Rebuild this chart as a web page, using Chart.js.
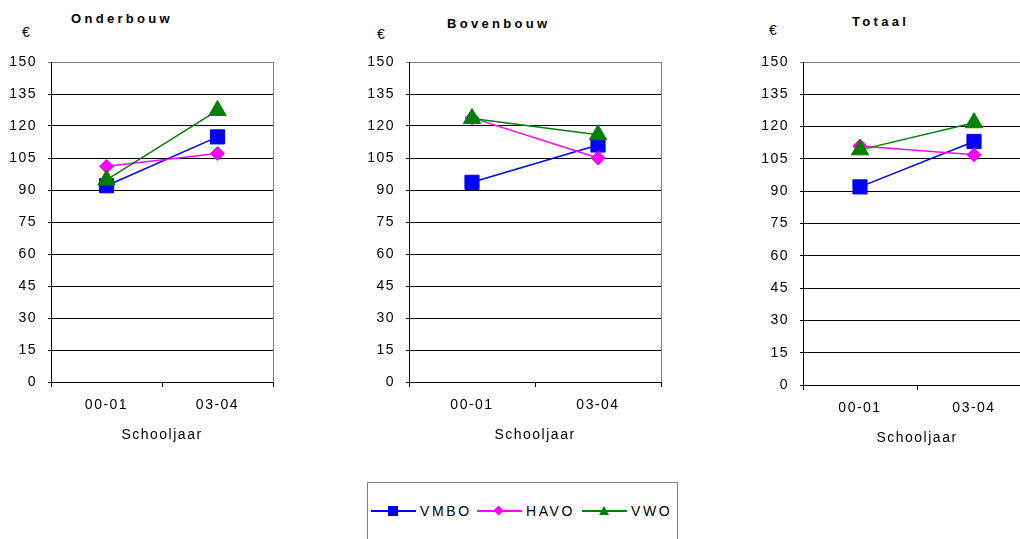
<!DOCTYPE html>
<html>
<head>
<meta charset="utf-8">
<script src="https://cdn.jsdelivr.net/npm/chart.js@4.4.1/dist/chart.umd.min.js"></script>
<style>
  body { margin: 0; width: 1020px; height: 539px; overflow: hidden; background: #fff; position: relative;
         font-family: "Liberation Sans", Arial, sans-serif; color: #000; }
  canvas { position: absolute; top: 0; }
  .title { position: absolute; font-weight: bold; font-size: 13px; letter-spacing: 3.3px; white-space: nowrap; }
  .euro { position: absolute; font-size: 14px; }
  #legend { position: absolute; left: 367px; top: 482px; width: 309px; height: 80px; border: 1px solid #808080; }
  .item { position: absolute; top: 20px; height: 16px; font-size: 14px; letter-spacing: 2.6px; line-height: 16px; }
  .item .ln { position: absolute; top: 7px; width: 45px; height: 2px; }
  .item .tx { position: absolute; left: 49px; top: 0; white-space: nowrap; }
</style>
</head>
<body>
<div class="title" style="left:71px; top:11px;">Onderbouw</div>
<div class="title" style="left:447px; top:16px;">Bovenbouw</div>
<div class="title" style="left:852px; top:14px;">Totaal</div>
<div class="euro" style="left:22px; top:24px;">€</div>
<div class="euro" style="left:377px; top:26px;">€</div>
<div class="euro" style="left:769px; top:22px;">€</div>

<canvas id="c1" width="284" height="460" style="left:0px"></canvas>
<canvas id="c2" width="312" height="460" style="left:360px"></canvas>
<canvas id="c3" width="292" height="460" style="left:750px"></canvas>

<div id="legend">
  <div class="item" style="left:3px;">
    <div class="ln" style="background:#0000ff"></div>
    <div style="position:absolute; left:17px; top:3px; width:10px; height:10px; background:#0000ff;"></div>
    <div class="tx">VMBO</div>
  </div>
  <div class="item" style="left:109px;">
    <div class="ln" style="background:#ff00ff"></div>
    <div style="position:absolute; left:18px; top:4px; width:7px; height:7px; background:#ff00ff; transform:rotate(45deg);"></div>
    <div class="tx">HAVO</div>
  </div>
  <div class="item" style="left:214px;">
    <div class="ln" style="background:#008000"></div>
    <div style="position:absolute; left:17px; top:3px; width:0; height:0; border-left:5px solid transparent; border-right:5px solid transparent; border-bottom:9px solid #008000;"></div>
    <div class="tx">VWO</div>
  </div>
</div>

<script>
const years = ['00-01', '03-04'];
const seriesNames = ['VMBO', 'HAVO', 'VWO'];
const yTicks = { min: 0, max: 150, step: 15 };

// Onderbouw
const onderVMBO = [92.0, 114.9];
const onderHAVO = [101.1, 107.1];
const onderVWO = [94.7, 127.3];
// Bovenbouw
const bovenVMBO = [93.6, 111.1];
const bovenHAVO = [123.8, 105.0];
const bovenVWO = [123.5, 115.9];
// Totaal
const totaalVMBO = [92.0, 113.1];
const totaalHAVO = [111.0, 106.9];
const totaalVWO = [109.2, 121.8];

const styles = [
    { color: '#0000ff', pointStyle: 'rect', radius: 10, order: 3 },
    { color: '#ff00ff', pointStyle: 'rectRot', radius: 7, order: 2 },
    { color: '#008000', pointStyle: 'triangle', radius: 10, order: 1 }
];

const FONT = '"Liberation Sans", Arial, sans-serif';

const spacing = {
    id: 'spacing',
    beforeDraw(chart) {
        chart.ctx.letterSpacing = '1.5px';
    }
};

function makeChart(id, values, yWidth, xHeight, titlePad) {
    const ctx = document.getElementById(id).getContext('2d');
    return new Chart(ctx, {
        type: 'line',
        data: {
            labels: years,
            datasets: values.map((vals, i) => ({
                label: seriesNames[i],
                data: vals,
                borderColor: styles[i].color,
                backgroundColor: styles[i].color,
                borderWidth: 1.5,
                pointStyle: styles[i].pointStyle,
                pointRadius: styles[i].radius,
                pointHoverRadius: styles[i].radius,
                pointBorderWidth: 1,
                tension: 0,
                order: styles[i].order
            }))
        },
        options: {
            responsive: false,
            animation: false,
            events: [],
            layout: { padding: { top: 62, right: 3, left: 0, bottom: 0 } },
            plugins: { legend: { display: false }, tooltip: { enabled: false } },
            scales: {
                x: {
                    offset: true,
                    afterFit(scale) {
                        scale.height = xHeight;
                        scale.paddingLeft = 0;
                        scale.paddingRight = 0;
                    },
                    grid: {
                        offset: true,
                        drawOnChartArea: true,
                        drawTicks: true,
                        tickLength: 5,
                        tickColor: '#000',
                        color: c => (c.type === 'tick' ? 'rgba(0,0,0,0)' : '#808080'),
                        lineWidth: 1
                    },
                    border: { color: '#000', width: 1 },
                    ticks: { color: '#000', padding: 10, font: { family: FONT, size: 14 } },
                    title: {
                        display: true,
                        text: 'Schooljaar',
                        color: '#000',
                        font: { family: FONT, size: 14 },
                        padding: { top: 0, bottom: titlePad }
                    }
                },
                y: {
                    min: yTicks.min,
                    max: yTicks.max,
                    afterFit(scale) {
                        scale.width = yWidth;
                        scale.paddingTop = 0;
                        scale.paddingBottom = 0;
                    },
                    grid: {
                        color: c => (c.tick && c.tick.value === yTicks.max ? '#808080' : '#000'),
                        tickLength: 3,
                        lineWidth: 1
                    },
                    border: { color: '#000', width: 1 },
                    ticks: {
                        stepSize: yTicks.step,
                        color: '#000',
                        padding: 11,
                        font: { family: FONT, size: 14 }
                    }
                }
            }
        },
        plugins: [spacing]
    });
}

makeChart('c1', [onderVMBO, onderHAVO, onderVWO], 51, 78, 16);
makeChart('c2', [bovenVMBO, bovenHAVO, bovenVWO], 49, 78, 16);
makeChart('c3', [totaalVMBO, totaalHAVO, totaalVWO], 53, 75, 13);
</script>
</body>
</html>
